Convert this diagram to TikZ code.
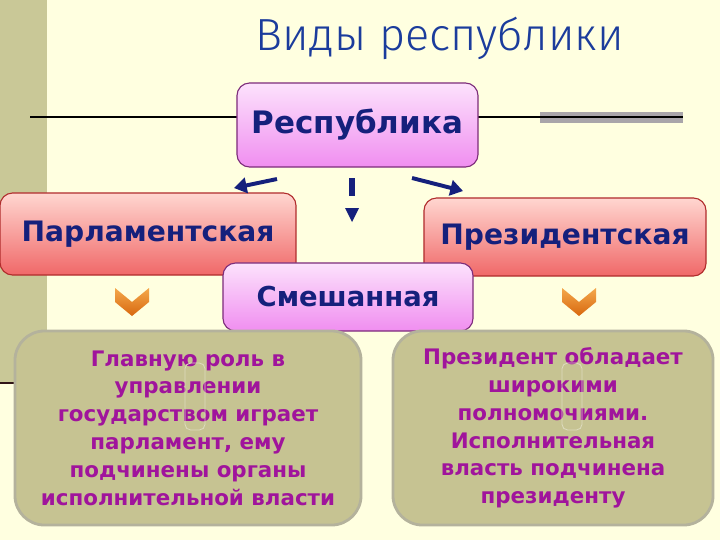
\documentclass[tikz,border=0pt]{standalone}
\usepackage{fontspec}
\setmainfont{DejaVu Sans}
\newfontfamily\titlefont{Fira Sans Light}
\usetikzlibrary{arrows.meta}

\definecolor{fondo}{HTML}{FFFFE0}
\definecolor{banda}{HTML}{C9C897}
\definecolor{oscuro}{HTML}{301418}
\definecolor{barra}{HTML}{A9A5AA}
\definecolor{azul}{HTML}{15207C}
\definecolor{titulo}{HTML}{1B3C9C}
\definecolor{rosa1}{HTML}{FCE2FC}
\definecolor{rosa2}{HTML}{F08EF0}
\definecolor{bordrosa}{HTML}{7C2C7A}
\definecolor{rojo1}{HTML}{FFD6D0}
\definecolor{rojo2}{HTML}{F06868}
\definecolor{bordrojo}{HTML}{B02C2C}
\definecolor{oliva}{HTML}{C6C392}
\definecolor{bordoliva}{HTML}{B4B29C}
\definecolor{lila}{HTML}{A0149C}
\definecolor{naranja1}{HTML}{F4A84C}
\definecolor{naranja2}{HTML}{D8680E}

\tikzset{
  caja/.style={rounded corners=9pt, draw, line width=0.8pt, inner sep=0pt,
    text=azul, font=\bfseries\fontsize{20}{24}\selectfont},
  cajarosa/.style={caja, draw=bordrosa, top color=rosa1, bottom color=rosa2},
  cajaroja/.style={caja, draw=bordrojo, top color=rojo1, bottom color=rojo2},
  cajagris/.style={rounded corners=21pt, draw=bordoliva, line width=2pt, fill=oliva,
    inner sep=0pt, minimum height=4.85cm, align=center, text=lila,
    font=\bfseries\fontsize{15.2}{19.8}\selectfont},
  fantasma/.style={rounded corners=4pt, draw=oliva!60!white, line width=0.6pt},
  flecha/.style={azul, line width=2.8pt, -{Triangle[length=9pt,width=11pt]}}
}

\begin{document}
\begin{tikzpicture}[x=0.025cm, y=-0.025cm]
\useasboundingbox (0,0) rectangle (720,540);

% Fondo
\fill[fondo] (0,0) rectangle (720,540);
\fill[banda] (0,0) rectangle (47,383);
\draw[oscuro, line width=2pt] (0,383) -- (47,383);

\fill[barra] (540,112) rectangle (683,123);
\draw[line width=1.2pt] (30,117) -- (683,117);

\node[text=titulo, font=\titlefont\fontsize{32}{36}\selectfont] (T) at (440,38) {Виды республики};

% Tipos
\node[cajarosa, minimum width=6.025cm, minimum height=2.1cm,
  font=\bfseries\fontsize{22}{26}\selectfont] (R) at (357.5,125) {Республика};
\node[cajaroja, minimum width=7.4cm, minimum height=2.05cm] (P) at (148,234) {Парламентская};
\node[cajaroja, minimum width=7.05cm, minimum height=1.95cm] (S) at (565,237) {Президентская};
\node[cajarosa, minimum width=6.25cm, minimum height=1.7cm,
  font=\bfseries\fontsize{19.5}{23}\selectfont] (M) at (348,297) {Смешанная};

% Flechas
\coordinate (f1) at (277,179);
\coordinate (f2) at (234,188);
\coordinate (f3) at (412,178);
\coordinate (f4) at (463,191);
\coordinate (c1) at (352,178);
\coordinate (c2) at (352,196);
\draw[flecha] (f1) -- (f2);
\draw[flecha] (f3) -- (f4);
\draw[azul, line width=4pt] (c1) -- (c2);
\fill[azul] (345,208) -- (359,208) -- (352,222) -- cycle;

\foreach \x in {132, 579}
	\shade[top color=naranja1, bottom color=naranja2]
		(\x-17,288) -- (\x,302) -- (\x+17,288) -- (\x+17,302) -- (\x,316) -- (\x-17,302) -- cycle;

% Explicaciones
\node[cajagris, minimum width=8.65cm] (G1) at (188,428)
	{Главную роль в\\управлении\\государством играет\\парламент, ему\\подчинены органы\\исполнительной власти};
\node[cajagris, minimum width=8cm] (G2) at (553,428)
	{Президент обладает\\широкими\\полномочиями.\\Исполнительная\\власть подчинена\\президенту};

\foreach \x in {195, 572}
	\draw[fantasma] (\x-10,363) rectangle (\x+10,430);
\end{tikzpicture}
\end{document}
